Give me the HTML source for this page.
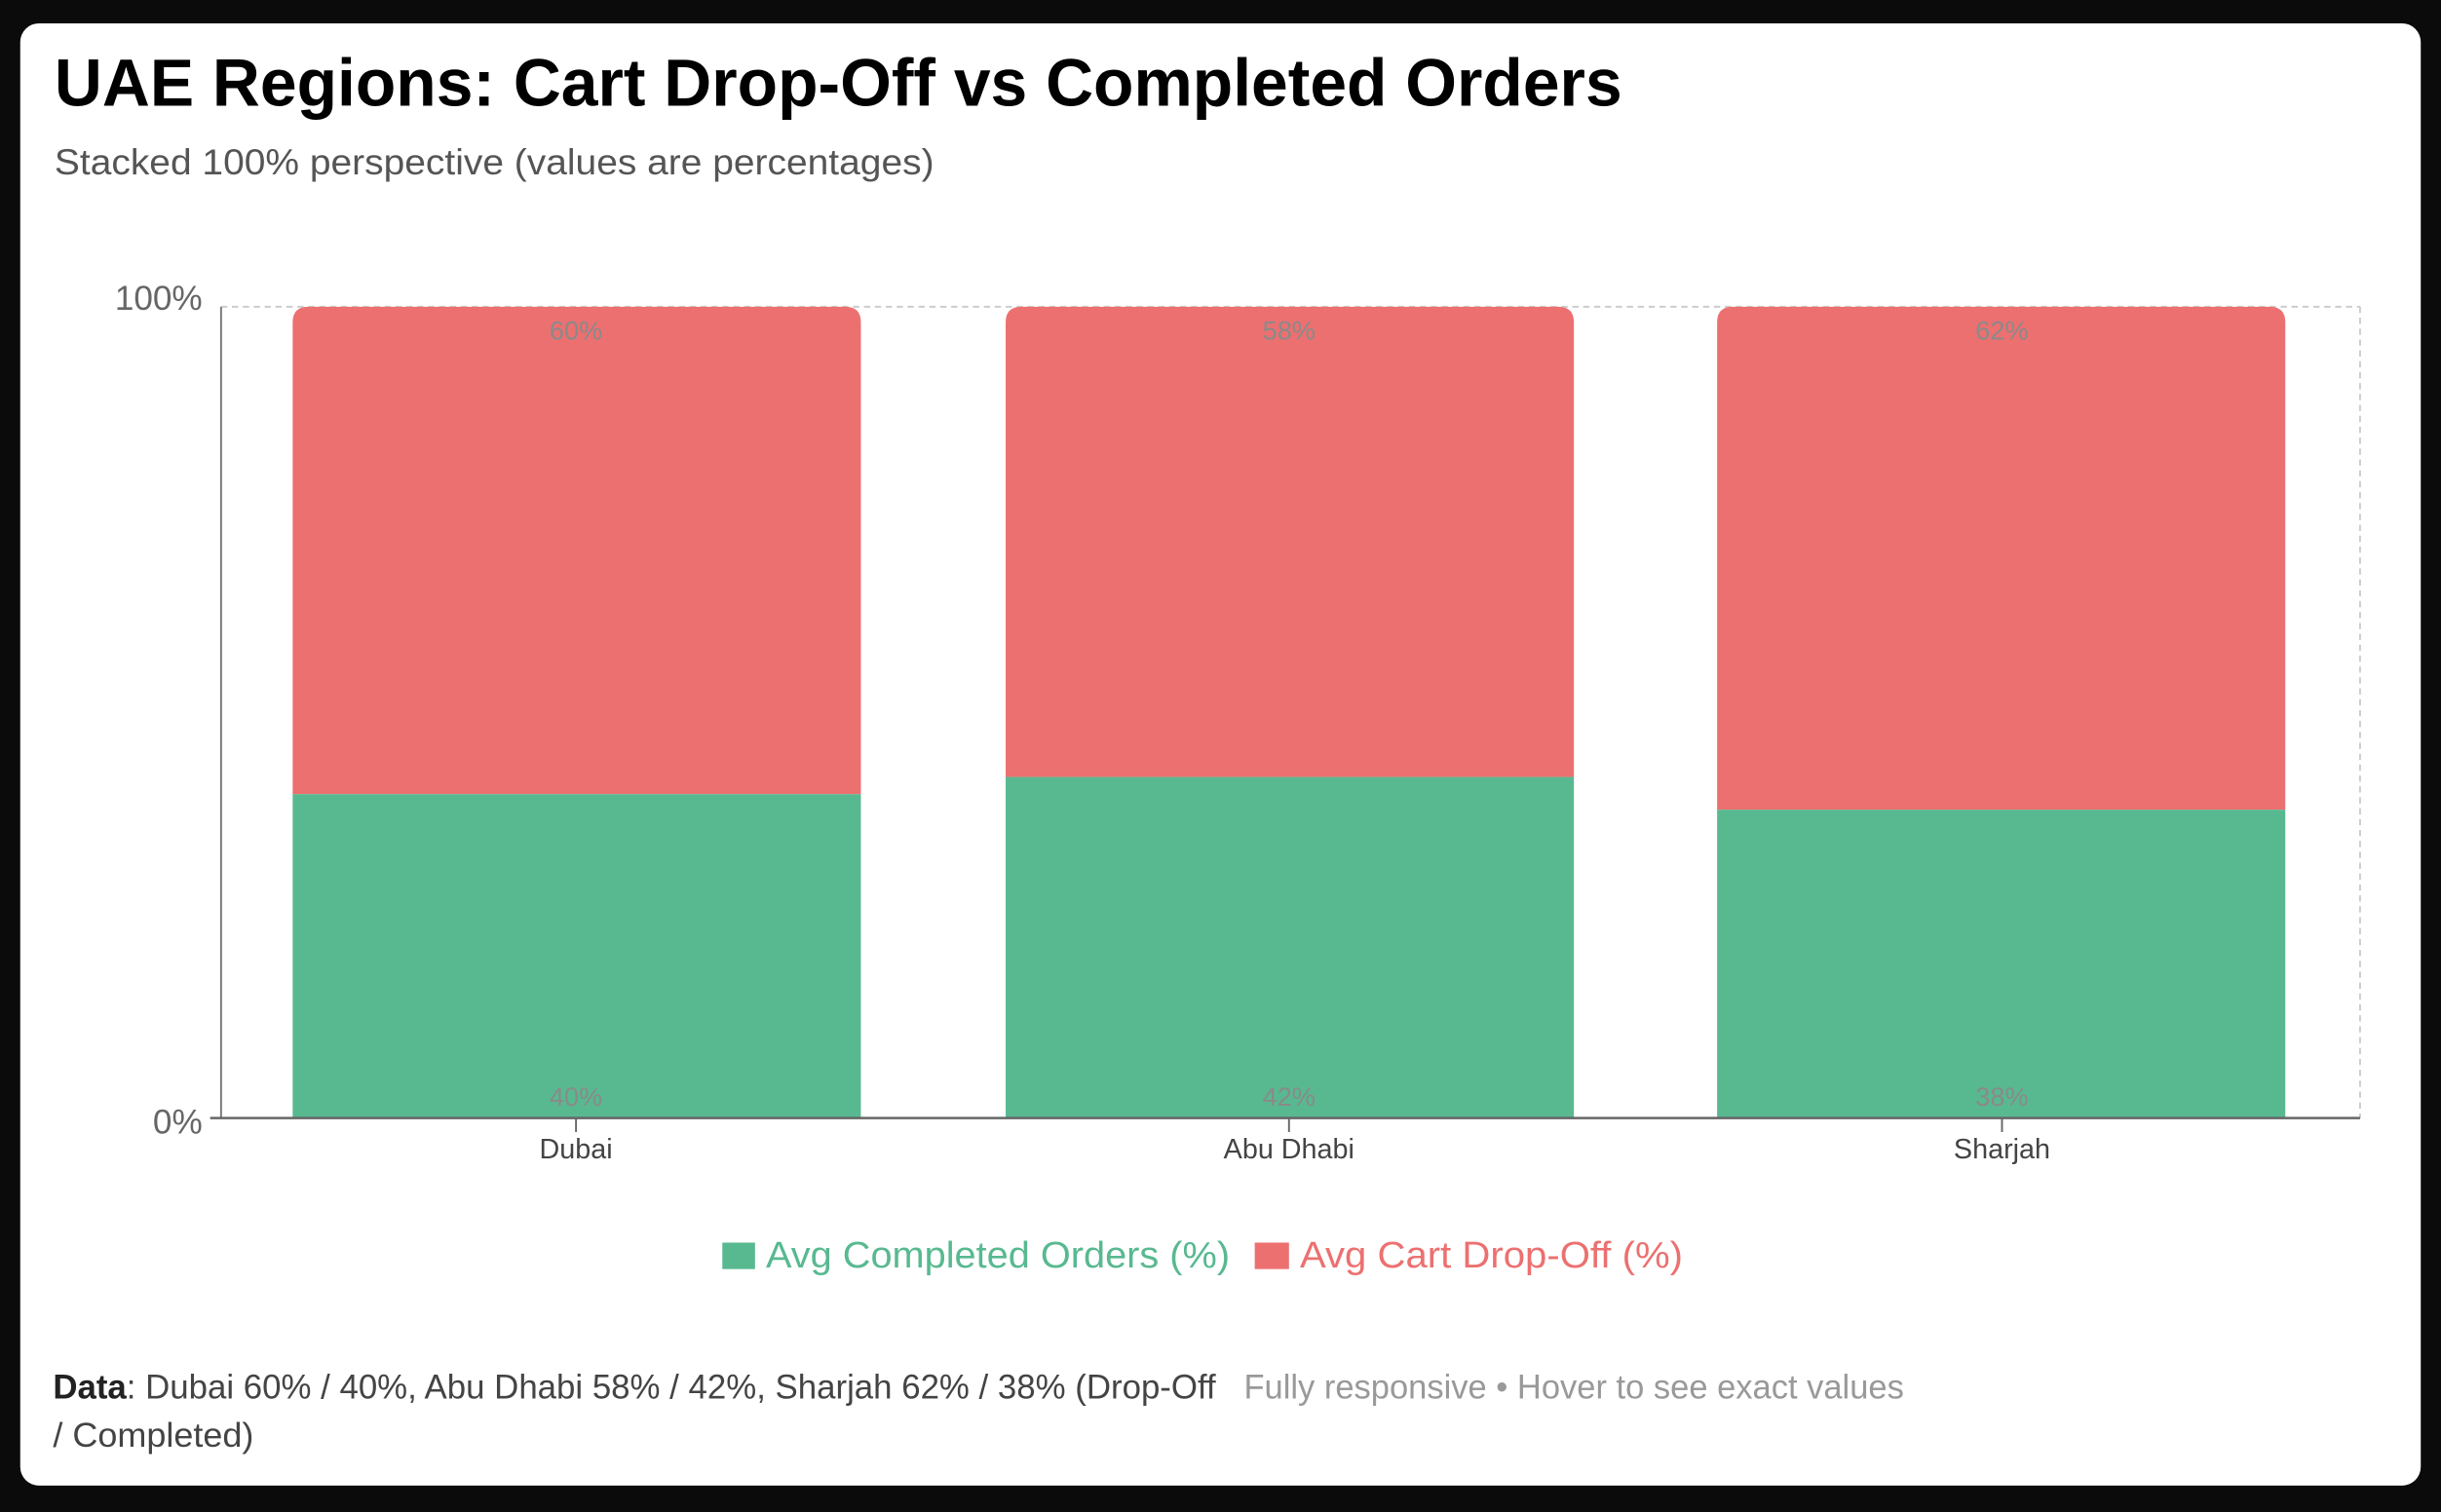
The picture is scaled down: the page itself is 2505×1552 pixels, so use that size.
<!DOCTYPE html>
<html><head><meta charset="utf-8"><style>
html,body{margin:0;padding:0;background:#0b0b0b;width:2505px;height:1552px;overflow:hidden}
svg{display:block}
text{font-family:"Liberation Sans",sans-serif}
</style></head><body>
<svg width="2505" height="1552" viewBox="0 0 1568 971" preserveAspectRatio="none">
<rect x="0" y="0" width="1568" height="971" fill="#0b0b0b"/>
<rect x="13" y="15" width="1542" height="939" rx="12" fill="#ffffff"/>
<text x="35" y="68" font-size="43" font-weight="bold" fill="#000" textLength="1007" lengthAdjust="spacingAndGlyphs">UAE Regions: Cart Drop-Off vs Completed Orders</text>
<text x="35" y="112" font-size="23" fill="#555" textLength="565" lengthAdjust="spacingAndGlyphs">Stacked 100% perspective (values are percentages)</text>
<line x1="142" y1="197" x2="1516" y2="197" stroke="#ccc" stroke-dasharray="4,3" stroke-width="1.2"/>
<line x1="1516" y1="197" x2="1516" y2="718" stroke="#ccc" stroke-dasharray="4,3" stroke-width="1.2"/>
<line x1="142" y1="197" x2="142" y2="718" stroke="#777" stroke-width="1.2"/>
<text x="130" y="199" font-size="22" fill="#666" text-anchor="end">100%</text>
<text x="130" y="728" font-size="22" fill="#666" text-anchor="end">0%</text>
<path d="M188,510 V207 Q188,197 198,197 H543 Q553,197 553,207 V510 Z" fill="#ec7070"/>
<rect x="188" y="510" width="365" height="208" fill="#58b990"/>
<path d="M646,499 V207 Q646,197 656,197 H1001 Q1011,197 1011,207 V499 Z" fill="#ec7070"/>
<rect x="646" y="499" width="365" height="219" fill="#58b990"/>
<path d="M1103,520 V207 Q1103,197 1113,197 H1458 Q1468,197 1468,207 V520 Z" fill="#ec7070"/>
<rect x="1103" y="520" width="365" height="198" fill="#58b990"/>
<g font-size="17" fill="#8a8a8a" text-anchor="middle">
<text x="370" y="218">60%</text><text x="370" y="710">40%</text>
<text x="828" y="218">58%</text><text x="828" y="710">42%</text>
<text x="1286" y="218">62%</text><text x="1286" y="710">38%</text>
</g>
<line x1="135" y1="718" x2="1516" y2="718" stroke="#666" stroke-width="1.5"/>
<g stroke="#666" stroke-width="1.2">
<line x1="370" y1="718" x2="370" y2="727"/><line x1="828" y1="718" x2="828" y2="727"/><line x1="1286" y1="718" x2="1286" y2="727"/>
</g>
<g font-size="18" fill="#444" text-anchor="middle">
<text x="370" y="744">Dubai</text><text x="828" y="744">Abu Dhabi</text><text x="1286" y="744">Sharjah</text>
</g>
<rect x="464" y="798" width="21" height="17" fill="#58b990"/>
<text x="492" y="814" font-size="24" fill="#58b990" textLength="298" lengthAdjust="spacingAndGlyphs">Avg Completed Orders (%)</text>
<rect x="806" y="798" width="22" height="17" fill="#ec7070"/>
<text x="835" y="814" font-size="24" fill="#ec7070" textLength="246" lengthAdjust="spacingAndGlyphs">Avg Cart Drop-Off (%)</text>
<text x="34" y="898" font-size="22" fill="#444" textLength="747" lengthAdjust="spacingAndGlyphs"><tspan font-weight="bold" fill="#222">Data</tspan>: Dubai 60% / 40%, Abu Dhabi 58% / 42%, Sharjah 62% / 38% (Drop-Off</text>
<text x="799" y="898" font-size="22" fill="#999" textLength="424" lengthAdjust="spacingAndGlyphs">Fully responsive • Hover to see exact values</text>
<text x="34" y="929" font-size="22" fill="#444" textLength="129" lengthAdjust="spacingAndGlyphs">/ Completed)</text>
</svg>
</body></html>
